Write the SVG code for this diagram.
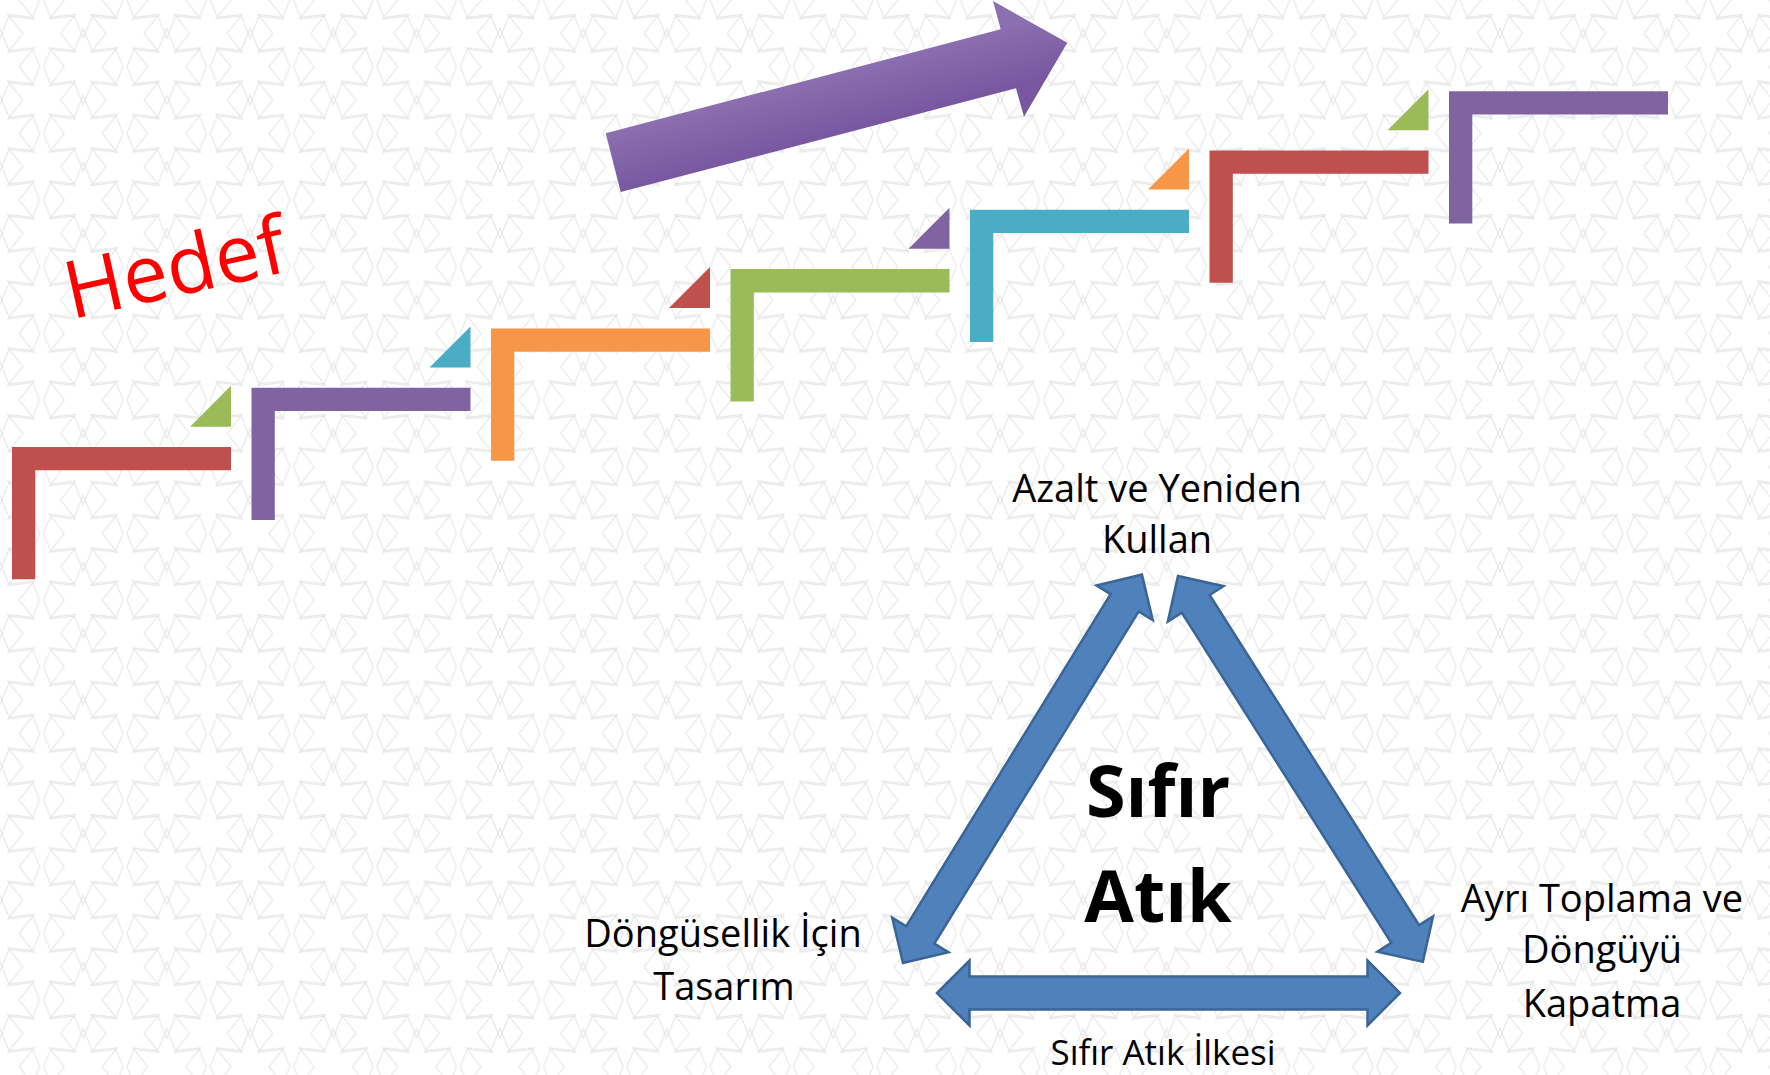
<svg xmlns="http://www.w3.org/2000/svg" xmlns:xlink="http://www.w3.org/1999/xlink" width="1770" height="1075" viewBox="0 0 1770 1075">
  <defs>
    <pattern id="bgpat" patternUnits="userSpaceOnUse" width="83.33" height="66.67">
      <g fill="none" stroke="#e6e6e6" stroke-width="1.1">
        <polygon id="star" points="0,-38 9,-16 34,-19 19,0 34,19 9,16 0,38 -9,16 -34,19 -19,0 -34,-19 -9,-16"/>
        <use xlink:href="#star" x="83.33" y="0"/>
        <use xlink:href="#star" x="0" y="66.67"/>
        <use xlink:href="#star" x="83.33" y="66.67"/>
        <use xlink:href="#star" x="41.67" y="33.33"/>
      </g>
    </pattern>
    <linearGradient id="purpleGrad" gradientUnits="userSpaceOnUse" x1="803" y1="81" x2="819" y2="140">
      <stop offset="0" stop-color="#8B6FAF"/>
      <stop offset="1" stop-color="#7857A0"/>
    </linearGradient>
    <path id="ell" d="M0,0 h219 v23.3 h-195.7 v109 h-23.3 z"/>
    <path id="tri" d="M0,0 v41 h-41 z"/>
  </defs>
  <style>
    .lbl { font-family: "Open Sans", "Liberation Sans", sans-serif; font-size: 38px; fill: #000; text-anchor: middle; }
    .lbl.small { font-size: 35px; }
    .big { font-family: "Open Sans", "Liberation Sans", sans-serif; font-size: 72px; font-weight: bold; fill: #000; text-anchor: middle; }
    .barrow { fill: #4F81BD; stroke: #3A6594; stroke-width: 2.5; stroke-linejoin: miter; }
    .red { fill: #C0504D; }
    .purple { fill: #8064A2; }
    .orange { fill: #F79646; }
    .green { fill: #9BBB59; }
    .aqua { fill: #4BACC6; }
  </style>

  <rect width="1770" height="1075" fill="#ffffff"/>
  <rect width="1770" height="1075" fill="url(#bgpat)"/>

  <g id="steps">
    <use id="step1" xlink:href="#ell" x="12" y="447" class="red"/>
    <use id="step2" xlink:href="#ell" x="251.5" y="387.7" class="purple"/>
    <use id="step3" xlink:href="#ell" x="491" y="328.4" class="orange"/>
    <use id="step4" xlink:href="#ell" x="730.5" y="269.1" class="green"/>
    <use id="step5" xlink:href="#ell" x="970" y="209.8" class="aqua"/>
    <use id="step6" xlink:href="#ell" x="1209.5" y="150.5" class="red"/>
    <use id="step7" xlink:href="#ell" x="1449" y="91.2" class="purple"/>
  </g>

  <g id="markers">
    <use id="tri1" xlink:href="#tri" x="231" y="385.7" class="green"/>
    <use id="tri2" xlink:href="#tri" x="470.5" y="326.4" class="aqua"/>
    <use id="tri3" xlink:href="#tri" x="710" y="267.1" class="red"/>
    <use id="tri4" xlink:href="#tri" x="949.5" y="207.8" class="purple"/>
    <use id="tri5" xlink:href="#tri" x="1189" y="148.5" class="orange"/>
    <use id="tri6" xlink:href="#tri" x="1428.5" y="89.2" class="green"/>
  </g>

  <g id="goal-arrow">
    <polygon points="605.7,133.3 1000.7,29.3 993,1 1067.3,42.7 1024,116.7 1016,88.3 620.7,192" fill="url(#purpleGrad)"/>
  </g>

  <g id="hedef">
    <text x="71" y="318" transform="rotate(-12.5 78 318)" font-family="'Open Sans', 'Liberation Sans', sans-serif" font-size="80" fill="#FF0000">Hedef</text>
  </g>

  <g id="connectors">
    <path class="barrow" transform="translate(903,963) rotate(-58.4)" d="M0,0 L33,-33 L33,-16.5 L423,-16.5 L423,-33 L456,0 L423,33 L423,16.5 L33,16.5 L33,33 Z"/>
    <path class="barrow" transform="translate(1178,576) rotate(57.6)" d="M0,0 L33,-33 L33,-16.5 L424,-16.5 L424,-33 L457,0 L424,33 L424,16.5 L33,16.5 L33,33 Z"/>
    <path class="barrow" transform="translate(937,993)" d="M0,0 L32.5,-32.5 L32.5,-16.5 L430.5,-16.5 L430.5,-32.5 L463,0 L430.5,32.5 L430.5,16.5 L32.5,16.5 L32.5,32.5 Z"/>
  </g>

  <g id="center">
    <text class="big" x="1158" y="817">Sıfır</text>
    <text class="big" x="1158" y="922">Atık</text>
  </g>

  <g id="node-top">
    <text class="lbl" x="1157" y="502">Azalt ve Yeniden</text>
    <text class="lbl" x="1157" y="553">Kullan</text>
  </g>

  <g id="node-left">
    <text class="lbl" x="723" y="947">Döngüsellik İçin</text>
    <text class="lbl" x="724" y="1000">Tasarım</text>
  </g>

  <g id="node-right">
    <text class="lbl" x="1602" y="912">Ayrı Toplama ve</text>
    <text class="lbl" x="1602" y="963">Döngüyü</text>
    <text class="lbl" x="1602" y="1017">Kapatma</text>
  </g>

  <g id="node-bottom">
    <text class="lbl small" x="1163" y="1065">Sıfır Atık İlkesi</text>
  </g>
</svg>
